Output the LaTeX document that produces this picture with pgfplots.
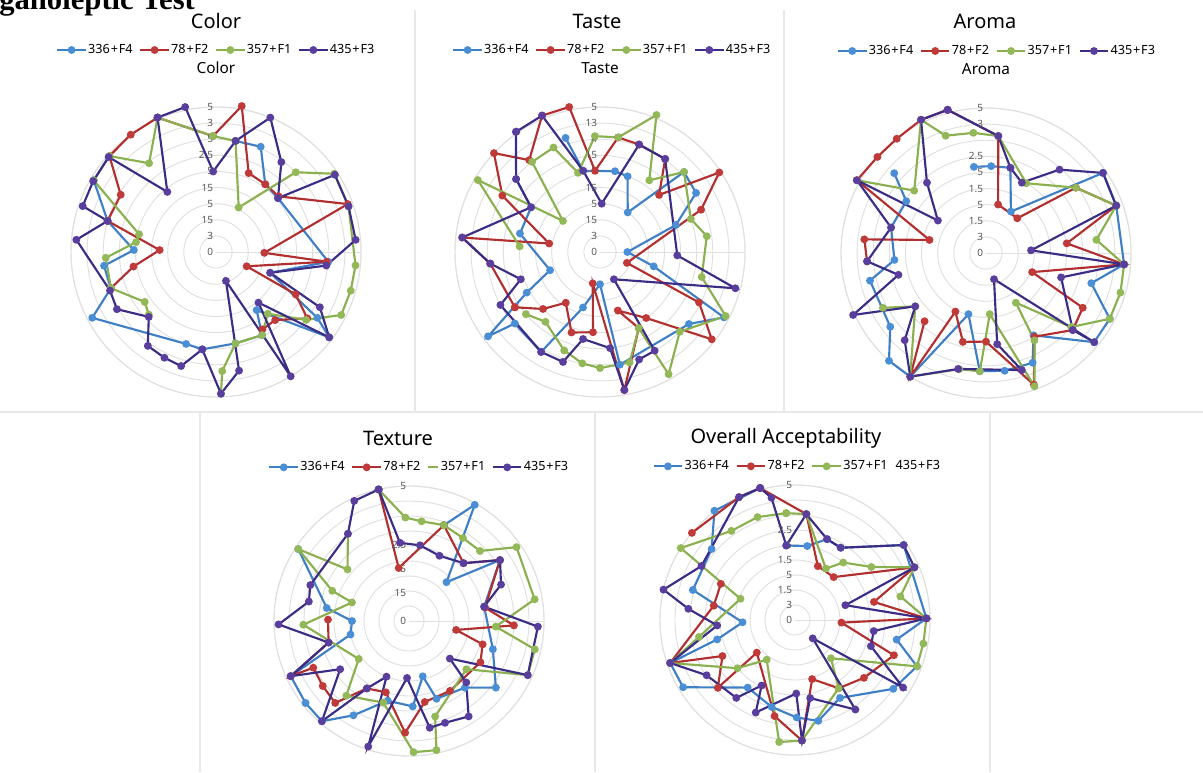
\documentclass[border=0pt]{standalone}
\usepackage{pgfplots}
\pgfplotsset{compat=1.18}
\usepgfplotslibrary{polar}
\usepackage{fontspec}
\setmainfont{Noto Sans}
\newfontfamily\serifb{Liberation Serif}
\definecolor{cB}{HTML}{3F7FC6}
\definecolor{cBm}{HTML}{4A8FD6}
\definecolor{cR}{HTML}{B22F2F}
\definecolor{cRm}{HTML}{C03A3A}
\definecolor{cG}{HTML}{8BB04F}
\definecolor{cGm}{HTML}{92B858}
\definecolor{cP}{HTML}{3B2D86}
\definecolor{cPm}{HTML}{5A3E9E}
\definecolor{gridc}{HTML}{E0E0E0}
\definecolor{panel}{HTML}{E8E8E8}
\tikzset{lbl/.style={font=\fontsize{7.5}{9}\selectfont, text=black!65, anchor=east, inner sep=1pt, xshift=-1pt}}
\newcommand{\pl}{\kern0.6pt+\kern0.6pt}
\pgfplotsset{
 sB/.style={color=cB, line width=1.6pt, mark=*, mark size=2.1pt, mark options={fill=cBm, draw=cBm, solid}},
 sR/.style={color=cR, line width=1.6pt, mark=*, mark size=2.1pt, mark options={fill=cRm, draw=cRm, solid}},
 sG/.style={color=cG, line width=1.6pt, mark=*, mark size=2.1pt, mark options={fill=cGm, draw=cGm, solid}},
 sP/.style={color=cP, line width=1.6pt, mark=*, mark size=2.1pt, mark options={fill=cPm, draw=cPm, solid}},
 shortleg/.style={legend image code/.code={\draw[##1] (0.48cm,0cm) -- (0.75cm,0cm);}},
 radar/.style={scale only axis, ymin=0, ymax=9, xtick=\empty, ytick={1,...,9}, yticklabels={,,,,,,,,,,},
   ytick style={draw=none}, xtick style={draw=none}, major tick length=0pt,
   ymajorgrids, major grid style={draw=gridc, line width=0.7pt},
   axis line style={draw=gridc, line width=0.7pt}, clip=false, anchor=center,
   legend style={draw=none, fill=none, legend columns=4, anchor=center,
     font=\fontsize{9.5}{11}\selectfont, inner sep=0pt,
     nodes={inner xsep=1pt},
     /tikz/every even column/.append style={column sep=4pt}},
   legend cell align=left,
   legend image code/.code={\draw[mark repeat=2,mark phase=2,##1] plot coordinates {(0cm,0cm) (0.375cm,0cm) (0.75cm,0cm)};},
   title style={font=\fontsize{11.5}{13}\selectfont, anchor=center, at={(0.5,1)}}}
}
\newcommand{\rl}[2]{\node[lbl] at (axis cs:90,#1) {#2};}
\begin{document}
\begin{tikzpicture}[x=0.75pt,y=-0.75pt]
\clip (0,0) rectangle (1203,772);
\fill[white] (0,0) rectangle (1203,772);
% panel borders
\draw[panel, line width=0.8pt] (415,10) -- (415,412) (784,10) -- (784,412) (0,412) -- (1203,412)
  (200,412) -- (200,772) (595,412) -- (595,772) (990,412) -- (990,772);
\node[anchor=base west, inner sep=0pt, font=\serifb\bfseries\fontsize{23}{25}\selectfont] at (-1,9) {ganoleptic Test};
% titles
\node[font=\fontsize{15}{17}\selectfont] at (216,21) {Color};
\node[font=\fontsize{15}{17}\selectfont] at (597,21) {Taste};
\node[font=\fontsize{15}{17}\selectfont] at (985,21) {Aroma};
\node[font=\fontsize{15}{17}\selectfont] at (398,438) {Texture};
\node[font=\fontsize{15}{17}\selectfont] at (786,438) {Overall Acceptability};

% ---------------- COLOR ----------------
\begin{polaraxis}[radar, at={(162pt,-189pt)}, width=217.5pt, height=217.5pt,
  title={Color}, title style={yshift=15pt},
  legend style={at={(0.5,1)}, yshift=42.75pt}]
\addplot[sB] coordinates {(80,7.0)(67,7.1)(54,5.2)(41,5.1)(-5,7.0)(-21,3.6)(-33,7.5)(-37,8.8)(-55,4.4)(-61,5.9)(-78,5.8)(-98,6.1)(-108,6.0)(-152,8.7)(-161,6.9)(-173,7.0)(-181.4,5.1)(-196,7.0)(-210.4,8.8)};
\addlegendentry{336\pl F4}
\addplot[sR] coordinates {(199,6.9)(190,5.2)(178,3.5)(164,7.0)(149,6.9)(138,8.9)(126,9.0)(113.5,9.1)(91.5,7.2)(80,9.2)(67.5,5.3)(54,5.2)(41.6,5.2)(20,8.7)(-1,3.0)(-5,6.9)(-25,2.1)(-28,5.6)(-36,7.0)(-49,5.6)(-59,5.6)};
\addlegendentry{78\pl F2}
\addplot[sG] coordinates {(223,5.7)(215,5.4)(199,6.9)(183,6.85)(173,5.0)(167,4.9)(149.6,8.8)(138,8.9)(127,6.9)(113.5,9.1)(91.5,7.2)(80,7.0)(63,3.1)(45,7.0)(33.5,8.8)(19,8.7)(-5.5,8.7)(-16,8.7)(-26.7,8.7)(-37,7.0)(-50,5.0)(-61,5.9)(-78,5.8)(-87,7.4)(-88,8.8)};
\addlegendentry{357\pl F1}
\addplot[sP] coordinates {(113.5,9.1)(102,9.2)(92,5.0)(80,7.0)(68,9.0)(54,6.9)(41,5.1)(33,8.8)(19,8.7)(5,8.7)(-7,6.9)(-21,3.6)(-28,7.3)(-37,8.8)(-50,4.1)(-59,9.0)(-71,1.9)(-79,7.5)(-88,8.8)(-98,6.1)(-107,7.4)(-116,7.3)(-126,7.2)(-136,5.8)(-150,7.1)(-160,7.0)(-185,8.7)(-196,7.0)(-199,8.75)(-210,8.8)(-221.5,8.9)(-231,4.8)(-246.5,9.1)};
\addlegendentry{435\pl F3}
\rl{0}{0}\rl{1}{3}\rl{2}{15}\rl{3}{5}\rl{4}{15}\rl{5}{5}\rl{6}{2.5}\rl{7}{5}\rl{8}{3}\rl{9}{5}
\end{polaraxis}

% ---------------- TASTE ----------------
\begin{polaraxis}[radar, at={(450pt,-189pt)}, width=217.5pt, height=217.5pt,
  title={Taste}, title style={yshift=15pt},
  legend style={at={(0.5,1)}, yshift=42.75pt, xshift=9pt}]
\addplot[sB] coordinates {(106.8,7.4)(101.7,5.15)(79.5,5.1)(70,5.0)(55,3.0)(43.6,7.2)(31.6,7.0)(19.6,5.0)(0,1.7)(-15,3.45)(-27.8,8.7)(-39,7.1)(-80,7.1)(-90,2.0)(-107,3.6)(-120.5,7.2)(-140,6.9)(-143,8.7)(-151,5.2)(-160,3.3)(-193,5.1)(-213,5.1)(-221,6.9)};
\addlegendentry{336\pl F4}
\addplot[sR] coordinates {(213,6.3)(186,6.85)(174,8.6)(170.5,3.2)(150,7.0)(137,9.0)(127.6,7.2)(113,9.2)(102,9.2)(93.5,5.05)(81,7.2)(70,7.1)(55,7.05)(44,5.1)(33.7,8.9)(22.7,6.8)(-22,1.8)(-27,6.9)(-38,8.8)(-55,5.0)(-73,3.8)(-63,5.3)(-80,8.7)(-103,2.0)(-95,5.0)(-109.5,5.3)(-124,3.8)(-135,5.0)(-147,6.3)};
\addlegendentry{78\pl F2}
\addplot[sG] coordinates {(176,5.0)(149.5,8.8)(140,3.0)(127,7.0)(114,7.1)(105.5,5.1)(92.5,7.2)(81,7.2)(67.6,9.2)(55.5,5.4)(43.6,7.2)(20,6.0)(8.4,6.7)(-13.8,6.5)(-27,8.75)(-45,7.0)(-60.7,8.7)(-63,5.3)(-75,7.1)(-90,7.2)(-99,7.0)(-110,6.5)(-128,5.5)(-140,6.0)};
\addlegendentry{357\pl F1}
\addplot[sP] coordinates {(124.8,9.1)(113,9.2)(101.7,5.15)(88,3.0)(70,7.1)(55,7.05)(-2.5,4.8)(-15,8.7)(-63,1.9)(-61,7.0)(-70,7.1)(-80,8.7)(-84,6.0)(-101,5.5)(-108.6,7.2)(-120.5,7.2)(-152,7.0)(-161,5.2)(-174,6.85)(-186,8.6)(-213,5.1)(-221,6.9)(-235,9.1)};
\addlegendentry{435\pl F3}
\rl{0}{0}\rl{1}{3}\rl{2}{15}\rl{3}{5}\rl{4}{15}\rl{5}{5}\rl{6}{15}\rl{7}{4}\rl{8}{13}\rl{9}{5}
\end{polaraxis}

% ---------------- AROMA ----------------
\begin{polaraxis}[radar, at={(739.5pt,-189.75pt)}, width=217.5pt, height=217.5pt,
  title={Aroma}, title style={yshift=15pt},
  legend style={at={(0.5,1)}, yshift=42.75pt, xshift=8pt}]
\addplot[sB] coordinates {(98,5.4)(86.6,5.4)(74,5.5)(59,3.0)(34.4,8.8)(20,8.6)(-4.7,8.6)(-16,6.8)(-28,8.7)(-39.5,8.7)(-60,5.9)(-67,7.4)(-81,7.4)(-93,7.35)(-106,3.95)(-121.5,9.0)(-132,9.0)(-142.4,7.5)(-166.6,7.4)(-175.7,5.7)(-195,6.1)(-213,5.9)(-221,7.55)};
\addlegendentry{336\pl F4}
\addplot[sR] coordinates {(184,7.4)(173.6,7.6)(167,3.6)(150.6,9.2)(138.5,9.0)(128,9.0)(116,9.2)(105,9.2)(84,7.3)(76,3.1)(48,2.9)(36,6.9)(20,8.6)(6.8,5.05)(-4.7,8.6)(-22.5,3.1)(-29.5,6.9)(-41.6,7.2)(-60,6.0)(-70,8.7)(-90,5.5)(-104.6,5.7)(-117.6,4.1)(-121.5,9.0)(-132,5.7)};
\addlegendentry{78\pl F2}
\addplot[sG] coordinates {(150.6,9.2)(139,5.9)(116,9.2)(109,7.7)(96,7.5)(84,7.3)(60,5.0)(36,6.9)(20,8.6)(6.8,6.9)(-4.7,8.6)(-16.4,8.7)(-28,8.7)(-41,7.0)(-59,3.6)(-61,6.2)(-70,8.8)(-86.5,3.8)(-93,7.35)(-103,7.4)(-121.5,9.0)(-143,5.5)(-152,7.25)};
\addlegendentry{357\pl F1}
\addplot[sP] coordinates {(105,9.2)(84,7.3)(74,5.5)(63,4.9)(48.6,6.9)(34.4,8.8)(20,8.6)(3.4,2.8)(-4.7,8.6)(-18,4.9)(-41.6,7.2)(-39.5,8.7)(-73,1.7)(-83,5.7)(-73,7.6)(-103.5,7.4)(-121.5,9.0)(-133,7.4)(-143,5.5)(-155,9.1)(-166,5.6)(-176,7.4)(-195,6.1)(-209.4,9.2)(-214,3.6)(-230,5.7)(-244,9.2)(-255,9.2)};
\addlegendentry{435\pl F3}
\rl{0}{0}\rl{1}{3}\rl{2}{1.5}\rl{3}{5}\rl{4}{1.5}\rl{5}{5}\rl{6}{2.5}\rl{8}{3}\rl{9}{5}
\end{polaraxis}

% ---------------- TEXTURE ----------------
\begin{polaraxis}[radar, at={(306.75pt,-465.75pt)}, width=202.5pt, height=202.5pt,
  legend style={at={(0.5,1)}, yshift=14pt, xshift=7.5pt}]
\addplot[sB] coordinates {(70,6.8)(60.5,8.9)(46,3.6)(33.8,7.3)(10.8,5.1)(-18.6,5.9)(-37.5,7.3)(-50,5.8)(-70.5,5.5)(-76,3.8)(-87.5,5.7)(-105,5.5)(-120.5,7.3)(-131,8.85)(-141.6,8.8)(-155,8.7)(-167,4.0)(-180,3.8)(-189,5.55)(-213,8.8)};
\addlegendentry{336\pl F4}
\addplot[sR] coordinates {(103,9.0)(101,3.6)(70,6.8)(46.7,5.3)(33.8,7.3)(10,5.15)(-2.4,7.0)(-10.7,3.2)(-17.6,5.15)(-30,5.5)(-59.6,5.4)(-79,5.5)(-92,7.45)(-108,5.0)(-122,5.3)(-132,7.35)(-143,7.2)(-154,7.1)(-155,8.7)(-165,5.55)(-181,5.4)};
\addlegendentry{78\pl F2}
\addplot[sG, forget plot] coordinates {(103,9.0)(92,6.9)(82.8,6.7)(70,6.8)(57,6.6)(44.6,6.65)(34.5,8.7)(9.8,8.5)(-3.7,5.8)(-12.7,8.6)(-24.5,8.7)(-40,5.0)(-74.7,6.6)(-78,8.8)(-88,8.75)(-107.5,5.7)(-130,6.5)(-143,4.2)(-178,7.05)(-198,4.0)(-201.5,5.5)(-213,8.8)(-220,5.35)(-235,7.1)};
\addlegendimage{color=cG, line width=1.6pt, shortleg}
\addlegendentry{357\pl F1}
\addplot[sP] coordinates {(103,9.0)(96.6,5.25)(81.7,5.1)(65,4.8)(46.7,5.3)(33.8,7.3)(21.6,6.6)(10.8,5.1)(-2.5,8.6)(-24.5,8.7)(-42.6,3.7)(-47,5.6)(-58,7.5)(-70.5,7.2)(-79,7.25)(-92,3.8)(-108,8.8)(-112,4.0)(-122,5.3)(-131,8.85)(-145,5.6)(-155,8.7)(-165,5.55)(-178.5,8.7)(-191,6.8)(-200,7.0)(-235,7.1)(-245.5,8.8)(-257,9.0)};
\addlegendentry{435\pl F3}
\rl{0}{0}\rl{1.9}{15}\rl{3.5}{5}\rl{5.1}{2.5}\rl{9}{5}
\end{polaraxis}

% ---------------- OVERALL ----------------
\begin{polaraxis}[radar, at={(596.25pt,-465pt)}, width=202.5pt, height=202.5pt,
  legend style={at={(0.5,1)}, yshift=14pt, xshift=1.5pt}]
\addplot[sB] coordinates {(96.7,5.0)(80.6,5.0)(68.4,5.8)(57.7,5.7)(34.6,8.8)(0.7,8.76)(-10.9,6.9)(-20.8,8.7)(-35,8.0)(-60,6.0)(-77,6.9)(-89,6.5)(-105,6.0)(-125,5.5)(-149,8.7)(-161,8.8)(-166,5.35)(-177.5,3.5)(-196.4,7.1)(-220.4,7.3)(-233.6,9.05)(-255.2,9.1)};
\addlegendentry{336\pl F4}
\addplot[sR] coordinates {(139.8,9.0)(114.5,9.0)(104.8,9.1)(83.9,7.1)(67,3.9)(48,3.85)(23.8,8.7)(12.9,5.4)(0.7,8.76)(-3.2,3.1)(-19.6,7.0)(-40,6.0)(-57.4,5.4)(-73.8,4.1)(-86.7,8.05)(-102,6.55)(-139.5,3.35)(-138.7,6.85)(-153.6,5.4)(-161,8.8)(-190,5.5)(-206,5.5)};
\addlegendentry{78\pl F2}
\addplot[sG] coordinates {(94.7,7.15)(83.9,7.1)(59,4.0)(50,5.0)(34.8,6.2)(23.8,8.7)(12.6,7.2)(0.7,8.76)(-10.4,8.7)(-20.8,8.7)(-46.8,3.5)(-57.4,5.4)(-86.7,8.05)(-97.4,8.2)(-125.5,3.25)(-140,5.0)(-161,8.8)(-170,6.5)(-201.3,3.9)(-212.2,9.0)(-234.5,7.3)(-250,7.3)(-265.3,7.15)};
\addlegendentry{357\pl F1}
\addplot[sP, forget plot] coordinates {(104.8,9.1)(100.9,8.3)(96.7,5.0)(83.9,7.1)(68.4,5.8)(57.7,5.7)(34.6,8.8)(23.8,8.7)(16.4,3.5)(0.7,8.76)(-8,5.3)(-19,5.35)(-32,8.5)(-46,1.7)(-56,7.2)(-79,5.3)(-86.7,8.05)(-89,4.9)(-113,6.7)(-117,4.9)(-127,6.5)(-148,6.95)(-161,8.8)(-176,5.2)(-186,7.15)(-193,9.0)(-210,7.2)(-245.5,9.0)(-255.2,9.1)};
\addlegendimage{empty legend}
\addlegendentry{435\pl F3}
\rl{0}{0}\rl{1}{3}\rl{2}{1.5}\rl{3}{5}\rl{4}{1.5}\rl{5}{5}\rl{6}{2.5}\rl{9}{5}
\end{polaraxis}
\end{tikzpicture}
\end{document}
